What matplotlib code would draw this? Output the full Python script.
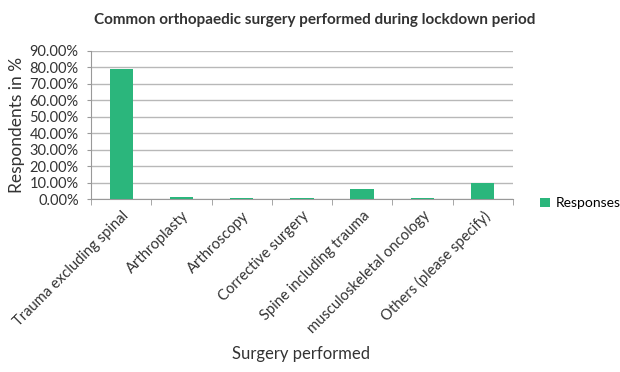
import matplotlib.pyplot as plt
import numpy as np
from matplotlib.ticker import PercentFormatter

categories = ["Trauma excluding spinal", "Arthroplasty", "Arthroscopy", "Corrective surgery",
              "Spine including trauma", "musculoskeletal oncology", "Others (please specify)"]
responses = [79.0, 1.2, 0.6, 0.6, 6.1, 0.6, 9.9]
yticks = [0, 10, 20, 30, 40, 50, 60, 70, 80, 90]

plt.rcParams['font.family'] = ['Lato', 'DejaVu Sans']

fig = plt.figure(figsize=(6.2, 3.72), dpi=100)
ax = fig.add_axes([0.147, 0.465, 0.68, 0.398])

x = np.arange(len(categories))
ax.bar(x, responses, width=0.39, color='#2bb67c', label='Responses', zorder=3)

ax.set_xlim(-0.5, len(categories) - 0.5)
ax.set_ylim(0, 90)
ax.set_yticks(yticks)
ax.yaxis.set_major_formatter(PercentFormatter(decimals=2))
ax.grid(axis='y', color='#b8b8b8', linewidth=1.0, zorder=0)

ax.set_xticks(x)
ax.set_xticklabels(categories, rotation=45, ha='right', rotation_mode='anchor', fontsize=10.6, color='#333333')
ax.set_xticks(np.arange(-0.5, len(categories)), minor=True)
ax.tick_params(axis='x', which='major', length=0, pad=7)
ax.tick_params(axis='x', which='minor', length=4, color='#999999')
ax.tick_params(axis='y', length=3, pad=6, color='#999999', labelsize=10.5, labelcolor='#333333')

for s in ['top', 'right']:
    ax.spines[s].set_visible(False)
for s in ['left', 'bottom']:
    ax.spines[s].set_color('#999999')

ax.set_ylabel('Respondents in %', fontsize=12.5, color='#333333', labelpad=3)
fig.text(0.485, 0.035, 'Surgery performed', ha='center', fontsize=12, color='#333333')
fig.text(0.508, 0.935, 'Common orthopaedic surgery performed during lockdown period',
         ha='center', fontsize=11, fontweight='bold', color='#333333')

ax.legend(loc='center left', bbox_to_anchor=(1.035, -0.03), frameon=False,
          fontsize=10, handlelength=0.7, handleheight=0.7, handletextpad=0.4)

plt.savefig('out.png', dpi=100)
